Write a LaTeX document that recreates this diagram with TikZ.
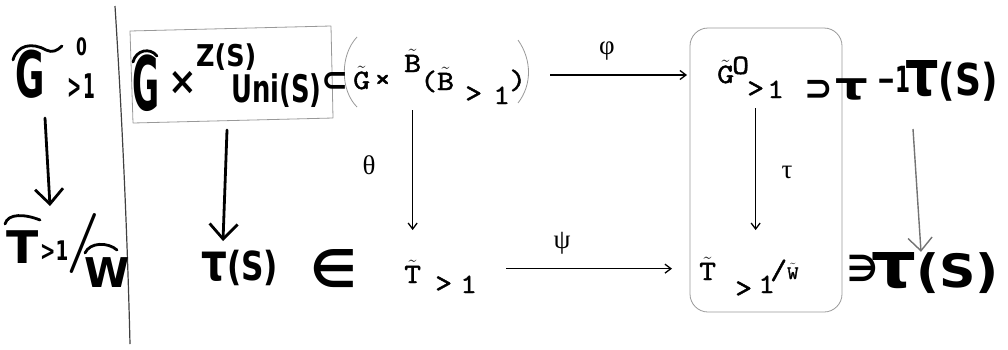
\documentclass[tikz,border=0pt]{standalone}
\usepackage{fontspec}
\usepackage{graphicx}
\usetikzlibrary{arrows.meta}
\newfontfamily\hw{DejaVu Sans}
\newfontfamily\gk{Liberation Serif}
\newfontfamily\twf{lmmono10-regular.otf}[FakeBold=1.5,FakeStretch=1.15]
\newcommand\hws[3]{{\fontsize{#1}{#1}\selectfont\scalebox{#2}[1]{#3}}}
\newcommand\tl[1]{$\tilde{\mbox{#1}}$}
\begin{document}
\begin{tikzpicture}[x=1pt,y=-1pt,
  tw/.style={font=\twf\fontsize{28}{28}\selectfont, inner sep=0pt, anchor=base west},
  gl/.style={font=\gk\fontsize{27}{27}\selectfont, inner sep=0pt},
  hwn/.style={font=\hw\bfseries, inner sep=0pt, anchor=base west},
  tarr/.style={line width=1.3pt, -{Straight Barb[length=6pt,width=9pt]}},
  harr/.style={line width=2.8pt, line cap=round, -{Straight Barb[length=15pt,width=28pt]}},
  hline/.style={line width=2.8pt, line cap=round},
  vrule/.style={line width=1.2pt, black!75},
  pencil/.style={line width=0.8pt, black!40, line join=round},
  parr/.style={line width=1.4pt, black!55, -{Straight Barb[length=13pt,width=24pt]}}]
\useasboundingbox (0,0) rectangle (1008,349);
% ---------- typewritten ----------
\node[tw] (tG1) at (353,89) {\tl{G}};
\node[tw] (tX) at (374,88) {×};
\node[tw] (tB1) at (404,72) {\tl{B}};
\node[tw] (tB2) at (420,90) {(\tl{B}};
\node[tw] (tgt1) at (465,102) {>};
\node[tw] (t11) at (493,104) {1};
\node[tw] (tpar) at (509,89) {)};
\node[tw] (tT1) at (404,283) {\tl{T}};
\node[tw] (tgt2) at (435,292) {>};
\node[tw] (t12) at (460,293) {1};
\node[tw] (tG2) at (717,83) {\tl{G}};
\node[tw] (tO) at (732,74) {O};
\node[tw] (tgt3) at (747,97) {>};
\node[tw] (t13) at (767,98) {1};
\node[tw] (tT2) at (699,280) {\tl{T}};
\node[tw] (tgt4) at (735,297) {>};
\node[tw] (t14) at (758,293) {1};
\node[tw] (tW) at (770,279) {/{\fontsize{19}{19}\selectfont\tl{W}}};
\node[gl] (phi) at (607,51) {φ};
\node[gl] (theta) at (369,165) {θ};
\node[gl] (psi) at (562,243) {ψ};
\node[gl] (tau) at (787,172) {τ};
\coordinate (rowtop) at (0,75);
\draw[tarr, shorten <=24pt, shorten >=30pt] (tpar.east |- rowtop) -- (tG2.west |- rowtop);
\draw[tarr, shorten <=29pt, shorten >=27pt] (t12.east |- tT2.west) -- (tT2.west);
\draw[tarr, shorten <=38pt, shorten >=30pt] (tB1.south) -- (tB1.south |- tT1.north);
\draw[tarr, shorten <=11pt, shorten >=27pt] (tgt3.south) -- (tgt3.south |- tT2.north);
% ---------- pencil outlines ----------
\draw[vrule] (115,6) .. controls (121,100) and (127,220) .. (130,344);
\draw[pencil] (130,31) -- (331,26) -- (333,118) -- (133,123) -- cycle;
\draw[pencil] (357,37) .. controls (340,55) and (340,90) .. (357,107);
\draw[pencil] (518,40) .. controls (532,60) and (532,85) .. (518,103);
\draw[pencil, rounded corners=18pt] (690,28) rectangle (842,312);
% ---------- handwritten ----------
\node[hwn] (hG1) at (15,97) {\hws{64}{0.56}{G}};
\node[hwn] (h01) at (76,55) {\hws{24}{0.65}{0}};
\node[hwn] (hs1) at (67,98) {\hws{34}{0.5}{>\hspace{5pt}1}};
\node[hwn] (hT) at (6,263) {\hws{45}{1.05}{T}};
\node[hwn] (hs2) at (40,260) {\hws{27}{0.68}{>1}};
\node[hwn] (hsl) at (66,258) {\rmfamily\fontsize{60}{60}\selectfont /};
\node[hwn] (hW) at (84,287) {\hws{41}{1.0}{W}};
\node[hwn] (hG2) at (132,110) {\hws{75}{0.44}{G}};
\node[hwn] (hX) at (168,94) {\hws{38}{0.9}{×}};
\node[hwn] (hZ) at (196,66) {\hws{30}{0.85}{Z(S)}};
\node[hwn] (hU) at (231,102) {\hws{38}{0.68}{Uni(S)}};
\node[hwn] (hsub) at (321,91) {\hws{34}{0.95}{⊂}};
\node[hwn] (htau1) at (201,280) {\hws{40}{0.78}{{\fontsize{52}{52}\selectfont τ}(S)}};
\node[hwn] (hin) at (310,287) {\hws{52}{1.0}{∈}};
\node[hwn] (hsup) at (804,100) {\hws{36}{0.95}{⊃}};
\node[hwn] (htau2) at (835,99) {\hws{38}{1.35}{τ}};
\node[hwn] (hm1) at (877,92) {\hws{36}{0.6}{−1}};
\node[hwn] (htau3) at (905,95) {\hws{44}{0.82}{{\fontsize{64}{64}\selectfont τ}(S)}};
\node[hwn] (hni) at (847,281) {\hws{36}{0.95}{∋}};
\node[hwn] (htau4) at (871,287) {\hws{46}{1.1}{{\fontsize{64}{64}\selectfont τ}(S)}};
% tildes
\draw[hline] (13,60) .. controls (17,45) and (32,42) .. (46,50) .. controls (52,53) and (57,51) .. (62,46);
\draw[hline] (133,62) .. controls (136,50) and (150,47) .. (157,56);
\draw[hline] (5,224) .. controls (8,213) and (25,214) .. (40,220);
\draw[hline] (85,253) .. controls (90,242) and (108,242) .. (117,250);
% handwritten arrows
\coordinate (la1) at (45,118); \coordinate (la2) at (50,206);
\draw[harr] (la1) -- (la2);
\coordinate (ma1) at (227,130); \coordinate (ma2) at (223,241);
\draw[harr] (ma1) -- (ma2);
\draw[parr] (htau3.south -| 913,0) ++(0,28) -- (htau4.north -| 921,0);
\end{tikzpicture}
\end{document}
